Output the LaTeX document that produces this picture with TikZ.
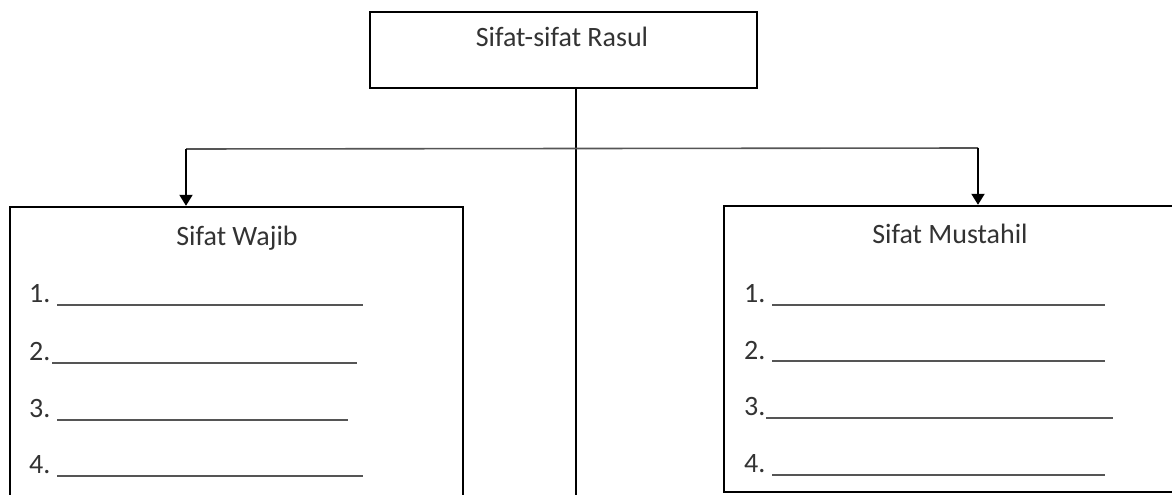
\documentclass[tikz,border=0pt]{standalone}
\usepackage{fontspec}
\setmainfont{Carlito}
\usetikzlibrary{arrows.meta}
\definecolor{txt}{HTML}{333333}
\definecolor{thin}{HTML}{555555}
\begin{document}
\begin{tikzpicture}[x=1pt,y=-1pt,
  box/.style={draw=black,line width=2.4pt,inner sep=0pt},
  lbl/.style={anchor=base,text=txt,inner sep=0pt,font=\fontsize{28}{34}\selectfont},
  num/.style={anchor=base west,text=txt,inner sep=0pt,font=\fontsize{28}{34}\selectfont},
  blank/.style={draw=thin,line width=1.6pt},
  conn/.style={draw=black,line width=2pt},
  hconn/.style={draw=thin,line width=1.6pt},
  arr/.style={draw=black,line width=2pt,-{Triangle[width=13pt,length=11pt]}}]
\useasboundingbox (0,0) rectangle (1172,495);
\fill[white] (0,0) rectangle (1172,495);
% boxes
\node[box,minimum width=387pt,minimum height=76pt] (rasul) at (563.5,50) {};
\node[box,minimum width=453pt,minimum height=313pt] (wajib) at (236.5,363.5) {};
\node[box,minimum width=452pt,minimum height=286pt] (mustahil) at (950,349) {};
% titles
\node[lbl] (trasul) at (562,47) {Sifat-sifat Rasul};
\node[lbl] (twajib) at (237,245) {Sifat Wajib};
\node[lbl] (tmust) at (950,243) {Sifat Mustahil};
% connectors
\coordinate (vbot) at (576,500);
\coordinate (hl) at (186,149);
\coordinate (hr) at (978,148);
\draw[conn] (rasul.south -| vbot) -- (vbot);
\draw[hconn] (hl) -- (hr);
\draw[arr] (hl) -- (hl |- wajib.north);
\draw[arr] (hr) -- (hr |- mustahil.north);
% left items
\node[num] (w1) at (29,302) {1.};
\node[num] (w2) at (29,360) {2.};
\node[num] (w3) at (29,417) {3.};
\node[num] (w4) at (29,473) {4.};
\draw[blank] (57,305) -- (363,305);
\draw[blank] (52,363) -- (357,363);
\draw[blank] (57,420) -- (348,420);
\draw[blank] (57,476) -- (363,476);
% right items
\node[num] (m1) at (744,302) {1.};
\node[num] (m2) at (744,359) {2.};
\node[num] (m3) at (744,415) {3.};
\node[num] (m4) at (744,472) {4.};
\draw[blank] (772,305) -- (1105,305);
\draw[blank] (772,361) -- (1105,361);
\draw[blank] (766,418) -- (1113,418);
\draw[blank] (772,475) -- (1105,475);
\end{tikzpicture}
\end{document}
